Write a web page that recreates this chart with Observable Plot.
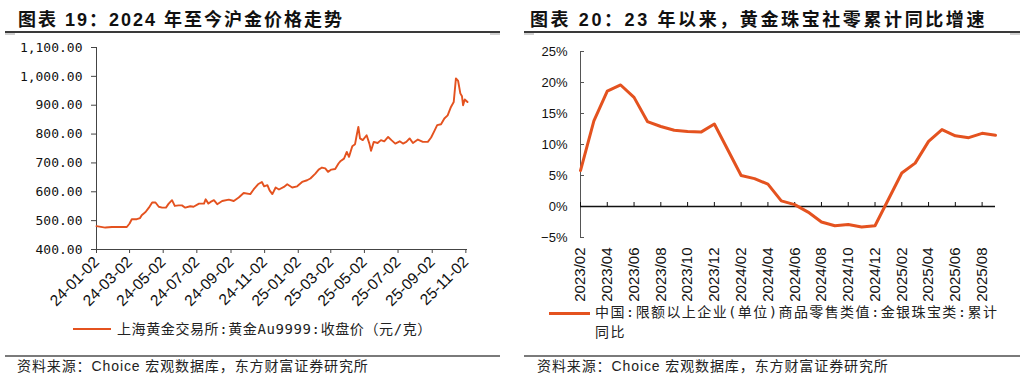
<!DOCTYPE html>
<html><head><meta charset="utf-8">
<script src="https://cdn.jsdelivr.net/npm/d3@7"></script>
<script src="https://cdn.jsdelivr.net/npm/@observablehq/plot@0.6"></script>
<style>
body{margin:0;background:#fff;}
#wrap{position:relative;width:1025px;height:379px;overflow:hidden;background:#fff;font-family:"Liberation Sans","Noto Sans CJK SC",sans-serif;color:#111;}
.abs{position:absolute;}
.title{position:absolute;top:5px;font-family:"Liberation Sans","Noto Sans CJK SC",sans-serif;font-weight:bold;font-size:18px;letter-spacing:2px;white-space:nowrap;color:#111;}
.trule{position:absolute;top:31px;height:2px;background:#3a3a3a;}
.tcap{position:absolute;top:33px;height:2px;width:10px;background:#d0d0d0;}
.frule{position:absolute;top:355px;height:2px;background:#7a7a7a;}
.src{position:absolute;top:357px;font-family:"Liberation Sans","Noto Sans CJK SC",sans-serif;font-size:14px;letter-spacing:0.9px;line-height:18px;white-space:nowrap;color:#222;}
.leg{position:absolute;font-family:"DejaVu Sans Mono","Noto Sans CJK SC",sans-serif;font-size:14px;letter-spacing:0.6px;white-space:nowrap;color:#222;}
#left,#right{position:absolute;top:0;}
#left{left:0;} #right{left:512px;}
</style></head>
<body>
<div id="wrap">
  <div id="left"></div>
  <div id="right"></div>
  <div class="title" style="left:18px;">图表 19：2024 年至今沪金价格走势</div>
  <div class="title" style="left:530px;letter-spacing:2.6px;">图表 20：23 年以来，黄金珠宝社零累计同比增速</div>
  <div class="trule" style="left:5px;width:495px;"></div>
  <div class="trule" style="left:524px;width:496px;"></div>
  <div class="tcap" style="left:5px;"></div>
  <div class="tcap" style="left:490px;"></div>
  <div class="tcap" style="left:524px;"></div>
  <div class="tcap" style="left:1010px;"></div>
  <div class="abs" style="left:73px;top:328px;width:38px;height:2px;background:#E4521F;"></div>
  <div class="leg" style="left:117px;top:319px;line-height:20px;">上海黄金交易所:黄金Au9999:收盘价（元/克）</div>
  <div class="abs" style="left:549px;top:311.5px;width:41px;height:3px;background:#E4521F;"></div>
  <div class="leg" style="left:595px;top:303px;line-height:19.5px;letter-spacing:1.4px;">中国:限额以上企业(单位)商品零售类值:金银珠宝类:累计<br>同比</div>
  <div class="frule" style="left:5px;width:495px;"></div>
  <div class="frule" style="left:524px;width:496px;"></div>
  <div class="src" style="left:17px;">资料来源：Choice 宏观数据库，东方财富证券研究所</div>
  <div class="src" style="left:537px;">资料来源：Choice 宏观数据库，东方财富证券研究所</div>
</div>
<script>
// ---- Left chart data: SGE Au9999 close (CNY/g) ----
const goldDates = ["2024-01-02","2024-01-18","2024-01-30","2024-02-17","2024-02-26","2024-03-02","2024-03-06","2024-03-15","2024-03-21","2024-03-24","2024-03-31","2024-04-06","2024-04-12","2024-04-18","2024-04-24","2024-04-30","2024-05-07","2024-05-12","2024-05-18","2024-05-23","2024-05-30","2024-06-05","2024-06-11","2024-06-20","2024-06-26","2024-07-06","2024-07-15","2024-07-18","2024-07-23","2024-07-27","2024-08-02","2024-08-08","2024-08-17","2024-08-29","2024-09-07","2024-09-16","2024-09-25","2024-10-07","2024-10-13","2024-10-21","2024-10-28","2024-11-01","2024-11-07","2024-11-11","2024-11-16","2024-11-22","2024-11-28","2024-12-07","2024-12-13","2024-12-22","2024-12-31","2025-01-09","2025-01-18","2025-01-24","2025-02-02","2025-02-08","2025-02-14","2025-02-20","2025-02-25","2025-03-03","2025-03-10","2025-03-16","2025-03-20","2025-03-26","2025-03-31","2025-04-04","2025-04-10","2025-04-15","2025-04-18","2025-04-21","2025-04-24","2025-04-29","2025-05-06","2025-05-11","2025-05-14","2025-05-19","2025-05-26","2025-06-01","2025-06-07","2025-06-14","2025-06-20","2025-06-27","2025-07-05","2025-07-11","2025-07-17","2025-07-23","2025-07-29","2025-08-07","2025-08-16","2025-08-25","2025-08-31","2025-09-06","2025-09-11","2025-09-18","2025-09-24","2025-09-30","2025-10-06","2025-10-11","2025-10-15","2025-10-19","2025-10-23","2025-10-26","2025-10-28","2025-10-31","2025-11-05"];
const goldPrices = [481,476,478,478,478,490,505,505,509,519,530,545,563,563,548,545,545,559,571,551,553,553,545,550,548,559,559,574,559,565,571,557,568,573,568,580,596,592,608,626,634,619,623,605,592,615,608,617,626,615,619,634,640,646,663,677,684,681,669,677,679,698,707,715,738,721,758,765,796,825,785,779,796,767,742,773,769,779,775,790,779,767,775,767,773,785,769,781,773,773,788,811,831,834,854,865,894,911,993,984,941,931,900,920,911];
const goldTickLabels = ["24-01-02","24-03-02","24-05-02","24-07-02","24-09-02","24-11-02","25-01-02","25-03-02","25-05-02","25-07-02","25-09-02","25-11-02"];
const goldYTicks = [400,500,600,700,800,900,1000,1100];

// ---- Right chart data: gold & jewelry retail sales, cumulative YoY (%) ----
const retailMonths = ["2023/02","2023/03","2023/04","2023/05","2023/06","2023/07","2023/08","2023/09","2023/10","2023/11","2023/12","2024/02","2024/03","2024/04","2024/05","2024/06","2024/07","2024/08","2024/09","2024/10","2024/11","2024/12","2025/02","2025/03","2025/04","2025/05","2025/06","2025/07","2025/08","2025/09"];
const retailYoY = [5.8,13.8,18.6,19.6,17.6,13.7,12.9,12.3,12.1,12.0,13.3,5.0,4.5,3.6,0.9,0.3,-0.9,-2.5,-3.1,-2.9,-3.3,-3.1,5.4,7.0,10.5,12.4,11.4,11.1,11.8,11.5];
const retailTickLabels = ["2023/02","2023/04","2023/06","2023/08","2023/10","2023/12","2024/02","2024/04","2024/06","2024/08","2024/10","2024/12","2025/02","2025/04","2025/06","2025/08"];
const retailYTicks = [-5,0,5,10,15,20,25];

const ORANGE = "#E4521F";
const AXIS = "#444";

// Left chart
const parseD = d3.utcParse("%Y-%m-%d");
const parseT = d3.utcParse("%y-%m-%d");
const gold = goldDates.map((d, i) => ({date: parseD(d), price: goldPrices[i]}));
const goldTicks = goldTickLabels.map(parseT);
const left = Plot.plot({
  width: 512, height: 320,
  marginTop: 47, marginBottom: 71, marginLeft: 96, marginRight: 45,
  x: {type: "utc", domain: [gold[0].date, gold[gold.length - 1].date]},
  y: {domain: [400, 1100]},
  style: {background: "transparent", color: "#111", overflow: "visible"},
  marks: [
    Plot.axisY({ticks: goldYTicks, tickFormat: d3.format(",.2f"), tickSize: 5, tickPadding: 9, label: null,
      fontFamily: "DejaVu Sans Mono", fontSize: 13, stroke: AXIS}),
    Plot.axisX({ticks: goldTicks, tickFormat: d3.utcFormat("%y-%m-%d"), tickRotate: -45, tickSize: 4, tickPadding: 6, label: null,
      fontFamily: "Liberation Sans", fontSize: 15.5, stroke: AXIS}),
    Plot.ruleY([400], {stroke: AXIS}),
    Plot.ruleX([gold[0].date], {stroke: AXIS}),
    Plot.line(gold, {x: "date", y: "price", stroke: ORANGE, strokeWidth: 1.9})
  ]
});
document.getElementById("left").appendChild(left);

// Right chart
const monthIdx = s => { const [y, m] = s.split("/").map(Number); return y * 12 + m - 1; };
const fmtMonth = t => `${Math.floor(t / 12)}/${String(t % 12 + 1).padStart(2, "0")}`;
const retail = retailMonths.map((m, i) => ({t: monthIdx(m), v: retailYoY[i]}));
const rTicks = retailTickLabels.map(monthIdx);
const x0 = retail[0].t;
const right = Plot.plot({
  width: 513, height: 310,
  marginTop: 51, marginBottom: 73, marginLeft: 68, marginRight: 30,
  x: {domain: [x0, retail[retail.length - 1].t]},
  y: {domain: [-5, 25]},
  style: {background: "transparent", color: "#111", overflow: "visible"},
  marks: [
    Plot.axisY({ticks: retailYTicks, tickFormat: d => `${d}%`.replace("-", "\u2212"), tickSize: 0, tickPadding: 13, label: null,
      fontFamily: "Liberation Sans", fontSize: 13}),
    Plot.ruleY(retailYTicks, {y: d => d, x1: x0, x2: x0, insetRight: -4, stroke: "#555"}),
    Plot.axisX({ticks: rTicks, tickFormat: fmtMonth, tickRotate: -90, tickSize: 0, tickPadding: 10, label: null,
      fontFamily: "Liberation Sans", fontSize: 15}),
    Plot.ruleX([x0], {stroke: "#555"}),
    Plot.ruleY([0], {stroke: "#111", strokeWidth: 1.5}),
    Plot.ruleX(rTicks, {x: d => d, y1: 0, y2: 0, insetTop: -4, stroke: "#111"}),
    Plot.line(retail, {x: "t", y: "v", stroke: ORANGE, strokeWidth: 3})
  ]
});
document.getElementById("right").appendChild(right);
</script>
</body></html>
